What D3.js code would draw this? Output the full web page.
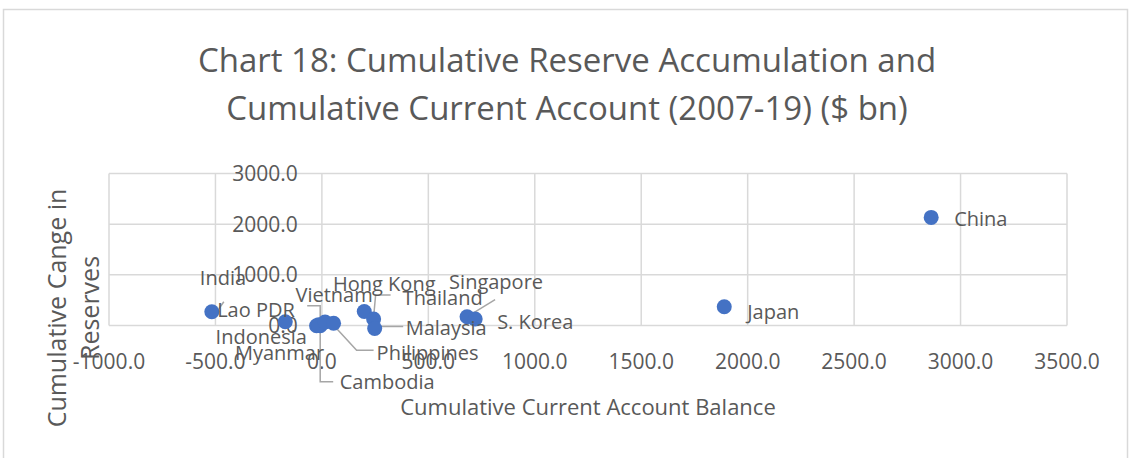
<!DOCTYPE html>
<html>
<head>
<meta charset="utf-8">
<script src="https://cdn.jsdelivr.net/npm/d3@7"></script>
<style>
  body { margin: 0; background: #fff; }
  text { font-family: "Open Sans", sans-serif; fill: #595959; }
</style>
</head>
<body>
<script>
var outerWidth = 1131;
var outerHeight = 458;

// values ($ bn)
var countries = ['India', 'Lao PDR', 'Indonesia', 'Myanmar', 'Cambodia', 'Vietnam', 'Philippines',
                 'Hong Kong', 'Thailand', 'Malaysia', 'Singapore', 'S. Korea', 'Japan', 'China'];
var currentAccount = [-517, -8, -172, -25, -15, 15, 55, 199, 243, 248, 682, 720, 1890, 2862];
var reserveChange = [272, -5, 75, -5, 15, 70, 45, 276, 128, -59, 174, 128, 371, 2134];
var xTicks = [-1000, -500, 0, 500, 1000, 1500, 2000, 2500, 3000, 3500];
var yTicks = [0, 1000, 2000, 3000];

var titleLines = ['Chart 18: Cumulative Reserve Accumulation and',
                  'Cumulative Current Account (2007-19) ($ bn)'];
var xTitle = 'Cumulative Current Account Balance';
var yTitleLines = ['Cumulative Cange in', 'Reserves'];

// label placement relative to each point: dx, dy, anchor, leader polyline
var labelPos = {
  'India':       { dx: -12, dy: -34, anchor: 'start', leader: [[7, -3], [12, -10]] },
  'Lao PDR':     { dx: -103, dy: -16, anchor: 'start', leader: [[-13, -20], [0, -20], [0, -3]] },
  'Indonesia':   { dx: -24, dy: 15, anchor: 'middle' },
  'Myanmar':     { dx: -37, dy: 27, anchor: 'middle' },
  'Cambodia':    { dx: 21, dy: 57, anchor: 'start', leader: [[1.5, 2], [1.5, 57], [14.5, 57]] },
  'Vietnam':     { dx: 9, dy: -27, anchor: 'middle' },
  'Philippines': { dx: 43, dy: 30, anchor: 'start', leader: [[0, 2], [23, 27], [40, 27]] },
  'Hong Kong':   { dx: 20, dy: -28, anchor: 'middle' },
  'Thailand':    { dx: 29, dy: -21, anchor: 'start', leader: [[17, -24], [2, -24], [0, -2]] },
  'Malaysia':    { dx: 31, dy: 0, anchor: 'start', leader: [[1.5, -2], [28.5, -2]] },
  'Singapore':   { dx: 29, dy: -35, anchor: 'middle', leader: [[28, -17], [1.5, -0.7]] },
  'S. Korea':    { dx: 22, dy: 3, anchor: 'start' },
  'Japan':       { dx: 23, dy: 5, anchor: 'start' },
  'China':       { dx: 23, dy: 2, anchor: 'start' }
};

var margin = { top: 173.5, right: 64, bottom: 132.5, left: 109 };
var plotW = outerWidth - margin.left - margin.right;
var plotH = outerHeight - margin.top - margin.bottom;

var points = countries.map(function(c, i) {
  return { name: c, x: currentAccount[i], y: reserveChange[i] };
});

var svg = d3.select('body').append('svg')
  .attr('width', outerWidth)
  .attr('height', outerHeight);

svg.append('rect')
  .attr('x', 3.5).attr('y', 9.5)
  .attr('width', 1124).attr('height', 470)
  .attr('fill', 'none')
  .attr('stroke', '#d9d9d9')
  .attr('stroke-width', 1.5);

var title = svg.append('text')
  .attr('text-anchor', 'middle')
  .style('font-size', '33px');
title.selectAll('tspan')
  .data(titleLines)
  .enter()
  .append('tspan')
  .attr('x', 567)
  .attr('y', function(d, i) { return 72 + i * 48; })
  .text(function(d) { return d; });

var x = d3.scaleLinear().domain([-1000, 3500]).range([0, plotW]);
var y = d3.scaleLinear().domain([0, 3000]).range([plotH, 0]);

var g = svg.append('g')
  .attr('transform', 'translate(' + margin.left + ',' + margin.top + ')');

// gridlines
g.selectAll('.vgrid')
  .data(xTicks)
  .enter()
  .append('line')
  .attr('class', 'vgrid')
  .attr('x1', function(d) { return x(d); })
  .attr('x2', function(d) { return x(d); })
  .attr('y1', 0)
  .attr('y2', plotH)
  .attr('stroke', '#d9d9d9')
  .attr('stroke-width', 1.5);

g.selectAll('.hgrid')
  .data(yTicks)
  .enter()
  .append('line')
  .attr('class', 'hgrid')
  .attr('x1', 0)
  .attr('x2', plotW)
  .attr('y1', function(d) { return y(d); })
  .attr('y2', function(d) { return y(d); })
  .attr('stroke', '#d9d9d9')
  .attr('stroke-width', 1.5);

// tick labels
g.selectAll('.xlab')
  .data(xTicks)
  .enter()
  .append('text')
  .attr('class', 'xlab')
  .attr('x', function(d) { return x(d); })
  .attr('y', plotH + 36)
  .attr('dy', '0.35em')
  .attr('text-anchor', 'middle')
  .style('font-size', '21px')
  .text(function(d) { return d3.format('.1f')(d).replace('−', '-'); });

g.selectAll('.ylab')
  .data(yTicks)
  .enter()
  .append('text')
  .attr('class', 'ylab')
  .attr('x', x(0) - 24)
  .attr('y', function(d) { return y(d); })
  .attr('dy', '0.35em')
  .attr('text-anchor', 'end')
  .style('font-size', '21px')
  .text(function(d) { return d3.format('.1f')(d); });

// axis titles
svg.append('text')
  .attr('x', margin.left + plotW / 2)
  .attr('y', 407)
  .attr('dy', '0.35em')
  .attr('text-anchor', 'middle')
  .style('font-size', '22px')
  .text(xTitle);

svg.selectAll('.ytitle')
  .data(yTitleLines)
  .enter()
  .append('text')
  .attr('class', 'ytitle')
  .attr('transform', function(d, i) {
    return 'translate(' + (57 + i * 33) + ',308) rotate(-90)';
  })
  .attr('dy', '0.35em')
  .attr('text-anchor', 'middle')
  .style('font-size', '25px')
  .text(function(d) { return d; });

// leader lines
var line = d3.line();
g.selectAll('.leader')
  .data(points.filter(function(d) { return labelPos[d.name].leader; }))
  .enter()
  .append('path')
  .attr('class', 'leader')
  .attr('d', function(d) {
    var px = x(d.x), py = y(d.y);
    return line(labelPos[d.name].leader.map(function(p) { return [px + p[0], py + p[1]]; }));
  })
  .attr('fill', 'none')
  .attr('stroke', '#a6a6a6')
  .attr('stroke-width', 1.5);

// points
g.selectAll('.dot')
  .data(points)
  .enter()
  .append('circle')
  .attr('class', 'dot')
  .attr('cx', function(d) { return x(d.x); })
  .attr('cy', function(d) { return y(d.y); })
  .attr('r', 7.5)
  .attr('fill', '#4472c4');

// data labels
g.selectAll('.lab')
  .data(points)
  .enter()
  .append('text')
  .attr('class', 'lab')
  .attr('x', function(d) { return x(d.x) + labelPos[d.name].dx; })
  .attr('y', function(d) { return y(d.y) + labelPos[d.name].dy; })
  .attr('dy', '0.35em')
  .attr('text-anchor', function(d) { return labelPos[d.name].anchor; })
  .style('font-size', '20px')
  .text(function(d) { return d.name; });
</script>
</body>
</html>
